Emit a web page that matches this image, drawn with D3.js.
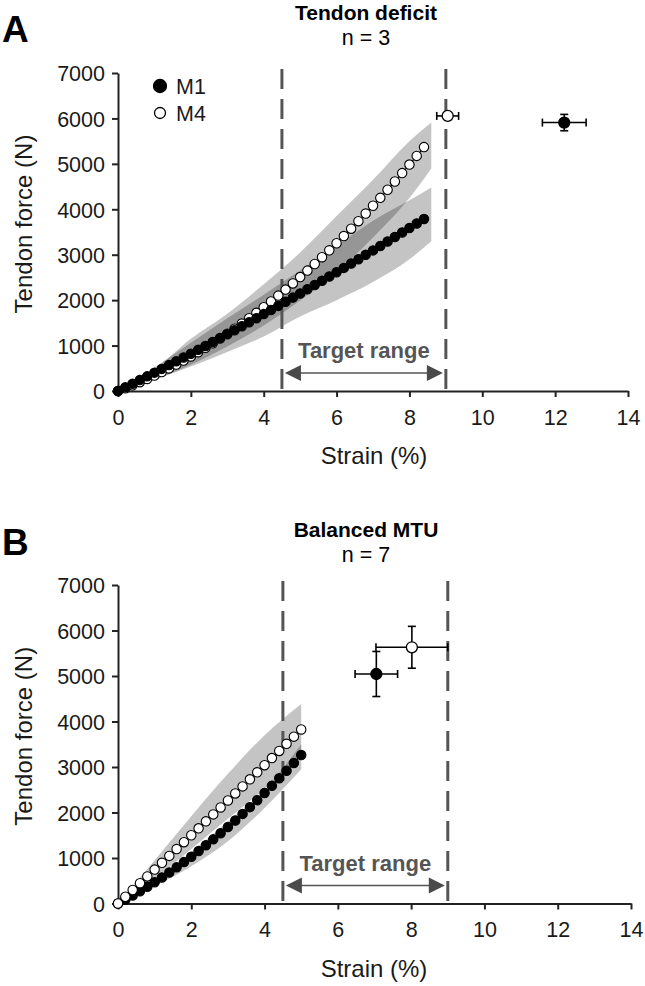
<!DOCTYPE html>
<html>
<head>
<meta charset="utf-8">
<script src="https://cdn.jsdelivr.net/npm/d3@7"></script>
<style>
  body { margin: 0; background: #fff; }
  svg text { font-family: "Liberation Sans", Arial, Helvetica, sans-serif; }
</style>
</head>
<body>
<svg id="chart" width="645" height="986"></svg>
<script>
// ---- Panel A : Tendon deficit (n = 3) ----
const strainA = [0, 0.2, 0.4, 0.6, 0.8, 1.0, 1.2, 1.4, 1.6, 1.8, 2.0, 2.2, 2.4, 2.6, 2.8,
  3.0, 3.2, 3.4, 3.6, 3.8, 4.0, 4.2, 4.4, 4.6, 4.8, 5.0, 5.2, 5.4, 5.6, 5.8, 6.0,
  6.2, 6.4, 6.6, 6.8, 7.0, 7.2, 7.4, 7.6, 7.8, 8.0, 8.2, 8.4];
const m1ForceA = [0, 80, 160, 241, 322, 404, 487, 570, 653, 737, 821, 906, 992, 1077, 1164,
  1251, 1338, 1426, 1514, 1603, 1693, 1783, 1873, 1964, 2056, 2148, 2240, 2333, 2426, 2520, 2615,
  2710, 2805, 2901, 2998, 3095, 3192, 3290, 3389, 3488, 3587, 3687, 3788];
const m4ForceA = [0, 61, 126, 194, 265, 340, 417, 498, 582, 669, 760, 854, 951, 1051, 1155,
  1262, 1372, 1485, 1601, 1721, 1844, 1970, 2100, 2232, 2368, 2508, 2650, 2796, 2945, 3097, 3252,
  3411, 3573, 3738, 3906, 4078, 4252, 4430, 4612, 4796, 4984, 5175, 5369];
// shaded bands (mean +/- SD)
const bandStrainA = [0, 1, 2, 3, 4, 5, 6, 7, 8, 8.6];
const m1LowA  = [0, 250, 540, 860, 1200, 1640, 2000, 2400, 2900, 3296];
const m1HighA = [0, 520, 1060, 1600, 2120, 2650, 3200, 3750, 4200, 4480];
const m4LowA  = [0, 260, 580, 980, 1440, 1990, 2620, 3380, 4250, 4900];
const m4HighA = [0, 480, 1150, 1700, 2350, 3050, 3850, 4650, 5500, 5909];
// failure points: [M1, M4]
const failStrainA = [12.25, 9.05];
const failStrainSdA = [0.6, 0.3];
const failForceA = [5909, 6055];
const failForceSdA = [180, 60];

// ---- Panel B : Balanced MTU (n = 7) ----
const strainB = [0, 0.2, 0.4, 0.6, 0.8, 1.0, 1.2, 1.4, 1.6, 1.8, 2.0, 2.2, 2.4, 2.6, 2.8,
  3.0, 3.2, 3.4, 3.6, 3.8, 4.0, 4.2, 4.4, 4.6, 4.8, 5.0];
const m1ForceB = [0, 86, 176, 270, 367, 468, 573, 682, 794, 910, 1029, 1152, 1279, 1410, 1544,
  1682, 1823, 1969, 2118, 2270, 2427, 2587, 2751, 2918, 3089, 3264];
const m4ForceB = [0, 148, 297, 446, 595, 745, 895, 1046, 1197, 1348, 1500, 1652, 1805, 1958, 2111,
  2265, 2419, 2574, 2729, 2884, 3040, 3196, 3353, 3510, 3667, 3825];
const bandStrainB = [0, 1, 2, 3, 4, 5];
const m1LowB  = [0, 380, 820, 1370, 2100, 2950];
const m1HighB = [0, 500, 1130, 1800, 2500, 3500];
const m4LowB  = [0, 540, 1200, 1860, 2520, 3250];
const m4HighB = [0, 950, 1920, 2850, 3700, 4385];
const failStrainB = [7.05, 8.02];
const failStrainSdB = [0.58, 0.98];
const failForceB = [5044, 5631];
const failForceSdB = [495, 460];

const xTicks = [0, 2, 4, 6, 8, 10, 12, 14];
const yTicks = [0, 1000, 2000, 3000, 4000, 5000, 6000, 7000];
const targetRange = [4.5, 9];

const svg = d3.select("#chart");
svg.append("rect").attr("width", 645).attr("height", 986).attr("fill", "#fff");

function drawPanel(p) {
  const x = d3.scaleLinear().domain([0, 14]).range([118, p.xRight]);
  const y = d3.scaleLinear().domain([0, 7000]).range([p.yBottom, p.yTop]);
  const g = svg.append("g");

  // letter + titles
  g.append("text").attr("x", 2).attr("y", p.letterY).text(p.letter)
    .attr("font-size", 37).attr("font-weight", "bold");
  g.append("text").attr("x", 366).attr("y", p.titleY).attr("text-anchor", "middle")
    .attr("font-size", 21).attr("font-weight", "bold").text(p.title);
  g.append("text").attr("x", 366).attr("y", p.titleY + 25).attr("text-anchor", "middle")
    .attr("font-size", 21.5).text(p.subtitle);

  // bands
  const area = d3.area()
    .x((d) => x(d[0])).y0((d) => y(d[1])).y1((d) => y(d[2]))
    .curve(d3.curveMonotoneX);
  [[p.m1Low, p.m1High], [p.m4Low, p.m4High]].forEach(([lo, hi]) => {
    g.append("path")
      .datum(p.bandStrain.map((s, i) => [s, lo[i], hi[i]]))
      .attr("d", area)
      .attr("fill", "#000")
      .attr("fill-opacity", 0.23);
  });

  // target range dashed lines
  targetRange.forEach((v) => {
    g.append("line")
      .attr("x1", x(v)).attr("x2", x(v))
      .attr("y1", y(7000) - 4).attr("y2", y(0))
      .attr("stroke", "#555").attr("stroke-width", 3)
      .attr("stroke-dasharray", "20,10");
  });

  // arrow + label
  const ay = y(0) - 18;
  const x1 = x(targetRange[0]) + 3, x2 = x(targetRange[1]) - 3;
  g.append("line").attr("x1", x1 + 14).attr("x2", x2 - 14).attr("y1", ay).attr("y2", ay)
    .attr("stroke", "#555").attr("stroke-width", 1.5);
  g.append("path").attr("d", `M${x1},${ay}L${x1 + 16},${ay - 8}L${x1 + 16},${ay + 8}Z`).attr("fill", "#4a4a4a");
  g.append("path").attr("d", `M${x2},${ay}L${x2 - 16},${ay - 8}L${x2 - 16},${ay + 8}Z`).attr("fill", "#4a4a4a");
  g.append("text").attr("x", (x1 + x2) / 2).attr("y", ay - 15).attr("text-anchor", "middle")
    .attr("font-size", 22).attr("font-weight", "bold").attr("fill", "#555").text("Target range");

  // axes
  const xAxis = g.append("g").attr("transform", `translate(0,${y(0)})`)
    .call(d3.axisBottom(x).tickValues(xTicks).tickFormat(d3.format("d"))
      .tickSize(6).tickSizeOuter(0).tickPadding(8));
  const yAxis = g.append("g").attr("transform", `translate(${x(0)},0)`)
    .call(d3.axisLeft(y).tickValues(yTicks).tickFormat(d3.format("d"))
      .tickSize(6).tickSizeOuter(0).tickPadding(7));
  [xAxis, yAxis].forEach((a) => {
    a.select(".domain").attr("stroke", "#222").attr("stroke-width", 2);
    a.selectAll(".tick line").attr("stroke", "#222").attr("stroke-width", 2);
    a.selectAll(".tick text").attr("font-size", 21.5).attr("fill", "#1a1a1a")
      .style("font-family", "'Liberation Sans', Arial, Helvetica, sans-serif");
  });
  xAxis.selectAll(".tick text").attr("dy", "0.92em");
  yAxis.selectAll(".tick text").attr("dy", "0.36em");

  g.append("text").attr("x", 374).attr("y", y(0) + 73).attr("text-anchor", "middle")
    .attr("font-size", 24).attr("fill", "#1a1a1a").text("Strain (%)");
  g.append("text")
    .attr("transform", `translate(32,${(y(0) + y(7000)) / 2 - 8}) rotate(-90)`)
    .attr("text-anchor", "middle").attr("font-size", 24).attr("fill", "#1a1a1a")
    .text("Tendon force (N)");

  // curves with markers
  const line = d3.line().x((d) => x(d[0])).y((d) => y(d[1]));
  const series = [
    { vals: p.m1Force, fill: "#000" },
    { vals: p.m4Force, fill: "#fff" },
  ];
  const order = p.openOnTop ? [0, 1] : [1, 0];
  order.forEach((k) => {
    const s = series[k];
    const pts = p.strain.map((v, i) => [v, s.vals[i]]);
    g.append("path").datum(pts).attr("d", line)
      .attr("fill", "none").attr("stroke", "#000").attr("stroke-width", 1.2);
    g.selectAll(null).data(pts).enter().append("circle")
      .attr("cx", (d) => x(d[0])).attr("cy", (d) => y(d[1])).attr("r", 4.7)
      .attr("fill", s.fill).attr("stroke", "#000").attr("stroke-width", 1.1);
  });

  // failure points with error bars
  ["#000", "#fff"].forEach((fill, i) => {
    const cx = x(p.failStrain[i]), cy = y(p.failForce[i]);
    const xl = x(p.failStrain[i] - p.failStrainSd[i]), xr = x(p.failStrain[i] + p.failStrainSd[i]);
    const yt = y(p.failForce[i] + p.failForceSd[i]), yb = y(p.failForce[i] - p.failForceSd[i]);
    const eb = g.append("g").attr("stroke", "#000").attr("stroke-width", 1.6);
    eb.append("line").attr("x1", xl).attr("x2", xr).attr("y1", cy).attr("y2", cy);
    eb.append("line").attr("x1", xl).attr("x2", xl).attr("y1", cy - 4).attr("y2", cy + 4);
    eb.append("line").attr("x1", xr).attr("x2", xr).attr("y1", cy - 4).attr("y2", cy + 4);
    eb.append("line").attr("x1", cx).attr("x2", cx).attr("y1", yt).attr("y2", yb);
    eb.append("line").attr("x1", cx - 4).attr("x2", cx + 4).attr("y1", yt).attr("y2", yt);
    eb.append("line").attr("x1", cx - 4).attr("x2", cx + 4).attr("y1", yb).attr("y2", yb);
    g.append("circle").attr("cx", cx).attr("cy", cy).attr("r", 5.5)
      .attr("fill", fill).attr("stroke", "#000").attr("stroke-width", 1.3);
  });

  // legend
  if (p.legend) {
    [["#000", "M1"], ["#fff", "M4"]].forEach(([fill, label], i) => {
      g.append("circle").attr("cx", 160).attr("cy", 86 + i * 27).attr("r", i === 0 ? 6.5 : 5.5)
        .attr("fill", fill).attr("stroke", "#000").attr("stroke-width", 1.3);
      g.append("text").attr("x", 176).attr("y", 86 + i * 27).attr("dy", "0.36em")
        .attr("font-size", 21.5).attr("fill", "#1a1a1a").text(label);
    });
  }
}

drawPanel({
  letter: "A", letterY: 42, title: "Tendon deficit", subtitle: "n = 3", titleY: 20,
  xRight: 628, yBottom: 391, yTop: 73,
  strain: strainA, m1Force: m1ForceA, m4Force: m4ForceA,
  bandStrain: bandStrainA, m1Low: m1LowA, m1High: m1HighA, m4Low: m4LowA, m4High: m4HighA,
  failStrain: failStrainA, failStrainSd: failStrainSdA, failForce: failForceA, failForceSd: failForceSdA,
  openOnTop: false, legend: true,
});

drawPanel({
  letter: "B", letterY: 555, title: "Balanced MTU", subtitle: "n = 7", titleY: 537,
  xRight: 631, yBottom: 903.5, yTop: 585,
  strain: strainB, m1Force: m1ForceB, m4Force: m4ForceB,
  bandStrain: bandStrainB, m1Low: m1LowB, m1High: m1HighB, m4Low: m4LowB, m4High: m4HighB,
  failStrain: failStrainB, failStrainSd: failStrainSdB, failForce: failForceB, failForceSd: failForceSdB,
  openOnTop: true, legend: false,
});
</script>
</body>
</html>
